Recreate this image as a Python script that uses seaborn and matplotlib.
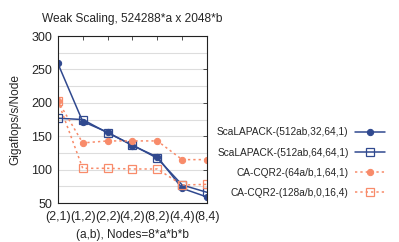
import numpy as np
import seaborn as sns
import matplotlib.pyplot as plt

cats = ["(2,1)", "(1,2)", "(2,2)", "(4,2)", "(8,2)", "(4,4)", "(8,4)"]
scal_32 = [259, 172, 156, 136, 119, 72, 59]
scal_64 = [177, 175, 155, 137, 117, 77, 66]
cqr_64 = [203, 140, 143, 143, 143, 115, 115]
cqr_128 = [203, 102, 102, 101, 101, 77, 78]
labels = ["ScaLAPACK-(512ab,32,64,1)", "ScaLAPACK-(512ab,64,64,1)",
          "CA-CQR2-(64a/b,1,64,1)", "CA-CQR2-(128a/b,0,16,4)"]

sns.set_style("white")
plt.rcParams['font.family'] = ['Liberation Sans', 'DejaVu Sans']

blue = "#30498f"
orange = "#f88b6a"

fig = plt.figure(figsize=(3.99, 2.42), dpi=100)
ax = fig.add_axes([0.145, 0.161, 0.374, 0.690])

x = np.arange(len(cats))
sns.lineplot(x=x, y=scal_32, ax=ax, color=blue, marker='o', markersize=4.5,
             markeredgecolor=blue, linewidth=1.1, label=labels[0])
sns.lineplot(x=x, y=scal_64, ax=ax, color=blue, marker='s', markersize=5.5,
             markerfacecolor='none', markeredgecolor=blue, markeredgewidth=0.9,
             linewidth=1.1, label=labels[1])
sns.lineplot(x=x, y=cqr_64, ax=ax, color=orange, marker='o', markersize=4.5,
             markeredgecolor=orange, linewidth=1.1, linestyle=(0, (1.5, 2)),
             label=labels[2])
sns.lineplot(x=x, y=cqr_128, ax=ax, color=orange, marker='s', markersize=5.5,
             markerfacecolor='none', markeredgecolor=orange, markeredgewidth=0.9,
             linewidth=1.1, linestyle=(0, (1.5, 2)), label=labels[3])

ax.set_xlim(0, len(cats) - 1)
ax.set_ylim(50, 300)
ax.set_xticks(x)
ax.set_xticklabels(cats)
ax.set_yticks(np.arange(50, 301, 50))
ax.set_yticks(np.arange(75, 300, 50), minor=True)
ax.grid(True, which='both', axis='y', color='#dddddd', linewidth=0.8)
ax.set_axisbelow(True)
ax.tick_params(axis='both', which='both', direction='in', top=True, right=True,
               labelsize=9, length=3, width=0.6, color='#333333')
ax.tick_params(axis='x', pad=6)
ax.tick_params(axis='y', pad=4)
ax.tick_params(axis='y', which='minor', length=0)
for s in ax.spines.values():
    s.set_color('#222222')
    s.set_linewidth(0.8)

ax.set_title("Weak Scaling, 524288*a x 2048*b", fontsize=8.6, pad=10)
ax.set_xlabel("(a,b), Nodes=8*a*b*b", fontsize=8.6, labelpad=4)
ax.set_ylabel("Gigaflops/s/Node", fontsize=8.6, labelpad=7)

ax.legend(loc='upper right', bbox_to_anchor=(0.975, 0.49),
          bbox_transform=fig.transFigure, frameon=False, fontsize=7.3,
          markerfirst=False, handlelength=3.0, labelspacing=1.0,
          handletextpad=0.6, borderaxespad=0)

fig.savefig("out.png", dpi=100)
